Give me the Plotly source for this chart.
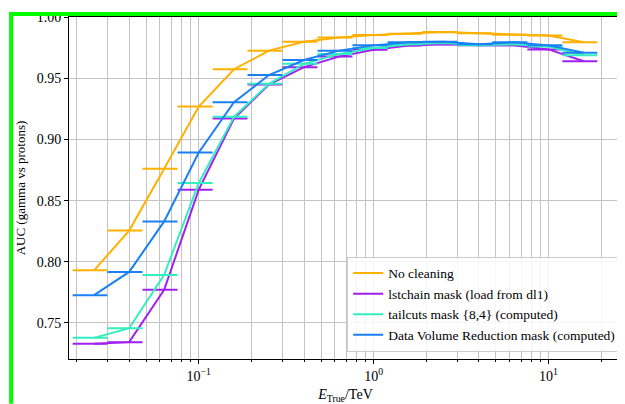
import plotly.graph_objects as go

# energy bins (TeV)
e_edges = [0.019, 0.030, 0.0477, 0.0756, 0.120, 0.190, 0.301, 0.477, 0.756,
           1.20, 1.90, 3.01, 4.77, 7.56, 12.0, 19.0]
e_center = [0.0252, 0.0400, 0.0634, 0.100, 0.159, 0.252, 0.400, 0.634, 1.00,
            1.59, 2.52, 4.00, 6.34, 10.0, 15.9]

auc_nocleaning = [0.793, 0.8255, 0.876, 0.927, 0.9575, 0.9727, 0.980, 0.9835,
                  0.9855, 0.9865, 0.988, 0.987, 0.9857, 0.985, 0.9795]
auc_lstchain = [0.733, 0.7343, 0.7771, 0.859, 0.9172, 0.945, 0.9592, 0.9678,
                0.9735, 0.9768, 0.978, 0.977, 0.977, 0.9737, 0.964]
auc_tailcuts = [0.7378, 0.7457, 0.7893, 0.8645, 0.9186, 0.9456, 0.9619, 0.970,
                0.9748, 0.978, 0.979, 0.977, 0.978, 0.976, 0.969]
auc_dvr = [0.7727, 0.7917, 0.833, 0.8894, 0.9305, 0.9527, 0.965, 0.9727,
           0.977, 0.9795, 0.980, 0.978, 0.9795, 0.977, 0.971]

names = ["No cleaning", "lstchain mask (load from dl1)",
         "tailcuts mask {8,4} (computed)", "Data Volume Reduction mask (computed)"]
colors = ["#FFB000", "#A020F0", "#33EEC0", "#1A80F5"]
series = [auc_nocleaning, auc_lstchain, auc_tailcuts, auc_dvr]

err_plus = [hi - c for hi, c in zip(e_edges[1:], e_center)]
err_minus = [c - lo for lo, c in zip(e_edges[:-1], e_center)]

fig = go.Figure()
for name, col, y in zip(names, colors, series):
    fig.add_trace(go.Scatter(
        x=e_center, y=y, name=name, mode="lines",
        line=dict(color=col, width=2),
        error_x=dict(type="data", symmetric=False, array=err_plus,
                     arrayminus=err_minus, color=col, thickness=2, width=0),
    ))

# log axis: labels on decades, minor ticks + grid on every 2..9 multiple
major_vals = [0.1, 1, 10]
major_text = ["10<sup>−1</sup>", "10<sup>0</sup>", "10<sup>1</sup>"]
minor_vals = [0.02, 0.03, 0.04, 0.05, 0.06, 0.07, 0.08, 0.09,
              0.2, 0.3, 0.4, 0.5, 0.6, 0.7, 0.8, 0.9,
              2, 3, 4, 5, 6, 7, 8, 9, 20]
y_ticks = [0.75, 0.80, 0.85, 0.90, 0.95, 1.00]

serif = "Liberation Serif"
grid = "#c4c4c4"
fig.update_xaxes(
    type="log", range=[-1.742, 1.420],
    tickmode="array", tickvals=major_vals, ticktext=major_text,
    ticks="outside", ticklen=4, tickcolor="black",
    minor=dict(tickmode="array", tickvals=minor_vals, ticks="outside",
               ticklen=2, tickcolor="black", showgrid=True,
               gridcolor=grid, gridwidth=1),
    showgrid=True, gridcolor=grid, gridwidth=1,
    showline=True, linecolor="black", linewidth=1, mirror=True,
    zeroline=False,
    tickfont=dict(family=serif, size=14, color="black"),
    title=dict(text="<i>E</i><sub>True</sub>/TeV", standoff=6,
               font=dict(family=serif, size=14, color="black")),
)
fig.update_yaxes(
    range=[0.7205, 1.0002],
    tickmode="array", tickvals=y_ticks,
    ticktext=[f"{v:.2f}" for v in y_ticks],
    ticks="outside", ticklen=4, tickcolor="black",
    showgrid=True, gridcolor=grid, gridwidth=1,
    showline=True, linecolor="black", linewidth=1, mirror=True,
    zeroline=False,
    tickfont=dict(family=serif, size=14, color="black"),
    title=dict(text="AUC (gamma vs protons)", standoff=8,
               font=dict(family=serif, size=13, color="black")),
)

# page body adds an 8px offset, so the figure is 8px smaller than the window
fig.update_layout(
    width=617, height=396,
    margin=dict(l=61, r=2, t=7, b=45),
    paper_bgcolor="white", plot_bgcolor="white",
    showlegend=True,
    legend=dict(x=0.503, y=0.021, xanchor="left", yanchor="bottom",
                bgcolor="rgba(255,255,255,0.85)", bordercolor="#cccccc",
                borderwidth=1, font=dict(family=serif, size=13.5, color="black"),
                tracegroupgap=0),
)

# green frame around the screenshot
fig.add_shape(type="line", xref="paper", yref="paper",
              x0=(1 - 61) / 554, x1=(617 - 61) / 554,
              y0=(351 - 4) / 344, y1=(351 - 4) / 344,
              line=dict(color="#00FF00", width=4), layer="above")
fig.add_shape(type="line", xref="paper", yref="paper",
              x0=(3 - 61) / 554, x1=(3 - 61) / 554,
              y0=(351 - 2) / 344, y1=(351 - 396) / 344,
              line=dict(color="#00FF00", width=4), layer="above")

fig.write_html("out.html")
